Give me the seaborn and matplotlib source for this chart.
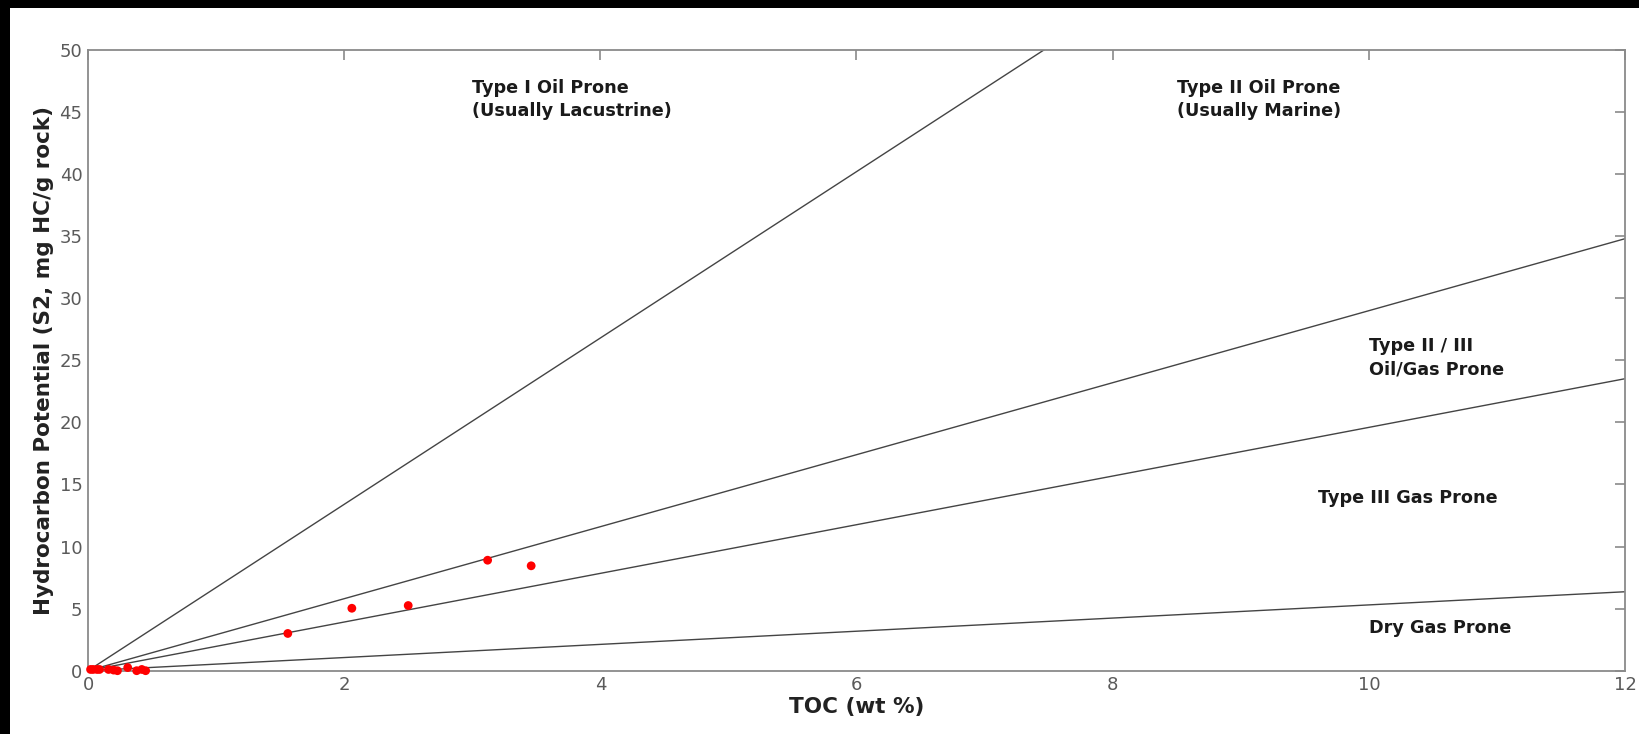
import numpy as np
import pandas as pd
import matplotlib
matplotlib.use("Agg")
import matplotlib.pyplot as plt
import seaborn as sns
from matplotlib.patches import Rectangle

# ---- data ----
toc = [0.02, 0.04, 0.07, 0.09, 0.16, 0.20, 0.23, 0.31, 0.38, 0.42, 0.45,
       1.56, 2.06, 2.50, 3.12, 3.46]
s2 = [0.10, 0.10, 0.10, 0.10, 0.10, 0.05, 0.00, 0.25, 0.00, 0.10, 0.00,
      3.00, 5.03, 5.25, 8.90, 8.45]

boundary_names = ["I/II", "II/II-III", "II-III/III", "III/Dry"]
boundary_slopes = [6.70, 2.90, 1.96, 0.53]   # S2 / TOC along each boundary
boundary_toc = [0.0, 12.0]

zone_labels = ["Type I Oil Prone\n(Usually Lacustrine)",
               "Type II Oil Prone\n(Usually Marine)",
               "Type II / III\nOil/Gas Prone",
               "Type III Gas Prone",
               "Dry Gas Prone"]
zone_x = [3.0, 8.5, 10.0, 9.6, 10.0]
zone_y = [46.0, 46.0, 25.2, 13.9, 3.4]

x_ticks = [0, 2, 4, 6, 8, 10, 12]
y_ticks = [0, 5, 10, 15, 20, 25, 30, 35, 40, 45, 50]

# ---- plot ----
sns.set_style("white")
plt.rcParams['font.family'] = ['DejaVu Sans']

fig = plt.figure(figsize=(16.39, 7.34), dpi=100, facecolor="white")
# black frame strips of the original screenshot
fig.patches.append(Rectangle((0, 1 - 8 / 734), 1, 8 / 734, transform=fig.transFigure,
                             facecolor="black", edgecolor="none", zorder=-1))
fig.patches.append(Rectangle((0, 0), 10 / 1639, 1, transform=fig.transFigure,
                             facecolor="black", edgecolor="none", zorder=-1))

ax = fig.add_axes([88 / 1639, 1 - 670.7 / 734, (1625 - 88) / 1639, (670.7 - 50) / 734])

rows = []
for name, k in zip(boundary_names, boundary_slopes):
    for xv in boundary_toc:
        rows.append({"name": name, "TOC": xv, "S2": k * xv})
lines_df = pd.DataFrame(rows)
sns.lineplot(data=lines_df, x="TOC", y="S2", units="name", estimator=None,
             color="#444444", linewidth=1.0, ax=ax, legend=False)

pts = pd.DataFrame({"TOC": toc, "S2": s2})
sns.scatterplot(data=pts, x="TOC", y="S2", color="#ff0000", s=40,
                edgecolor="none", ax=ax, zorder=5, clip_on=False)

for lab, xv, yv in zip(zone_labels, zone_x, zone_y):
    ax.text(xv, yv, lab, ha="left", va="center",
            fontsize=12.7, fontweight="bold", color="#1a1a1a", linespacing=1.35)

ax.set_xlim(0, 12)
ax.set_ylim(0, 50)
ax.set_xticks(x_ticks)
ax.set_yticks(y_ticks)
ax.set_xticklabels([str(t) for t in x_ticks])
ax.set_yticklabels([str(t) for t in y_ticks])
ax.tick_params(direction="in", length=7, width=1.2, color="#8a8a8a",
               labelsize=13, labelcolor="#5a5a5a", top=True, right=True,
               pad=4)
for sp in ax.spines.values():
    sp.set_visible(True)
    sp.set_color("#8a8a8a")
    sp.set_linewidth(1.3)

ax.set_xlabel("TOC (wt %)", fontsize=15.5, fontweight="bold", color="#222222", labelpad=2)
ax.set_ylabel("Hydrocarbon Potential (S2, mg HC/g rock)", fontsize=15.5,
              fontweight="bold", color="#222222", labelpad=4)

fig.savefig("out.png", dpi=100, facecolor="white")
